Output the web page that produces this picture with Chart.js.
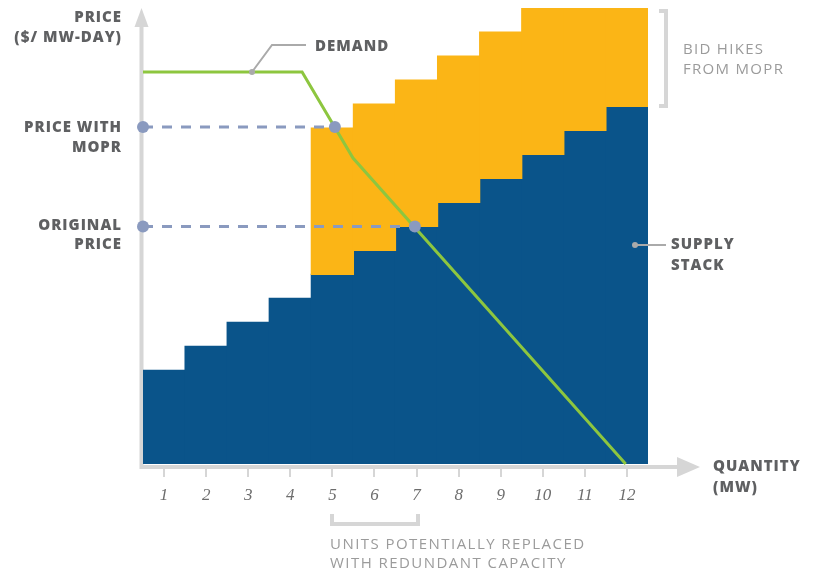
<!DOCTYPE html>
<html>
<head>
<meta charset="utf-8">
<script src="https://cdn.jsdelivr.net/npm/chart.js@4"></script>
<style>
    html, body { margin: 0; padding: 0; background: #ffffff; }
    canvas { display: block; }
</style>
</head>
<body>
<canvas id="mopr" width="819" height="575"></canvas>
<script>
// ==========================================
// Supply stack vs. demand under MOPR
// ==========================================

const quantities = ['1', '2', '3', '4', '5', '6', '7', '8', '9', '10', '11', '12'];
const supplyBid = [3.9, 4.9, 5.9, 6.9, 7.9, 8.9, 9.9, 10.9, 11.9, 12.9, 13.9, 14.9];
const moprBid = [null, null, null, null, 14, 15, 16, 17, 18, 19, 19, 19];

const demandQty = [0.5, 4.28, 5.49, 11.97];
const demandPrice = [16.33, 16.33, 12.75, 0];

const priceWithMopr = 14.04;
const priceWithMoprQty = 5.06;
const originalPrice = 9.9;
const originalPriceQty = 6.96;

const BLUE = '#0a548a';
const ORANGE = '#fbb516';
const GREEN = '#8dc63f';
const SLATE = '#8a9abf';
const AXIS = '#d6d6d6';
const LABEL = '#5f6062';
const NOTE = '#9b9b9b';
const LEADER = '#aaaaaa';

const boldFont = "800 15px 'Open Sans', sans-serif";
const lightFont = "400 15px 'Open Sans', sans-serif";

function text(ctx, str, x, y, font, color, align, spacing) {
    ctx.save();
    ctx.font = font;
    ctx.fillStyle = color;
    ctx.textAlign = align || 'left';
    ctx.textBaseline = 'middle';
    ctx.letterSpacing = spacing || '1px';
    ctx.fillText(str, x, y);
    ctx.restore();
}

// axes with arrows, drawn under the bars
const axisPlugin = {
    id: 'axisArrows',
    beforeDatasetsDraw(chart) {
        const { ctx, chartArea } = chart;
        const x0 = chartArea.left - 1.5;
        const y0 = chartArea.bottom + 3;
        ctx.save();
        ctx.strokeStyle = AXIS;
        ctx.fillStyle = AXIS;
        ctx.lineWidth = 4;
        ctx.beginPath();
        ctx.moveTo(x0, y0 + 2);
        ctx.lineTo(x0, 24);
        ctx.moveTo(x0, y0);
        ctx.lineTo(680, y0);
        ctx.stroke();
        ctx.beginPath();
        ctx.moveTo(x0, 8);
        ctx.lineTo(x0 - 7, 27);
        ctx.lineTo(x0 + 7, 27);
        ctx.closePath();
        ctx.fill();
        ctx.beginPath();
        ctx.moveTo(700, y0);
        ctx.lineTo(677, y0 - 10);
        ctx.lineTo(677, y0 + 10);
        ctx.closePath();
        ctx.fill();

        // tick marks
        const xs = chart.scales.x;
        ctx.lineWidth = 2;
        ctx.beginPath();
        quantities.forEach((q, i) => {
            const px = Math.round(xs.getPixelForValue(i));
            ctx.moveTo(px, y0 + 2);
            ctx.lineTo(px, y0 + 10);
        });
        ctx.stroke();
        ctx.restore();
    },
    afterDraw(chart) {
        const { ctx, chartArea } = chart;
        const xs = chart.scales.x;

        // tick labels
        quantities.forEach((q, i) => {
            text(ctx, q, xs.getPixelForValue(i), chartArea.bottom + 32,
                "italic 17px 'Liberation Serif', serif", '#6d6d6d', 'center', '0px');
        });

        // left labels
        text(ctx, 'PRICE', 122, 18, boldFont, LABEL, 'right');
        text(ctx, '($/ MW-DAY)', 122, 38, boldFont, LABEL, 'right');
        text(ctx, 'PRICE WITH', 122, 128, boldFont, LABEL, 'right');
        text(ctx, 'MOPR', 122, 148, boldFont, LABEL, 'right');
        text(ctx, 'ORIGINAL', 122, 226, boldFont, LABEL, 'right');
        text(ctx, 'PRICE', 122, 245, boldFont, LABEL, 'right');

        // demand leader
        ctx.save();
        ctx.strokeStyle = LEADER;
        ctx.fillStyle = LEADER;
        ctx.lineWidth = 2;
        ctx.beginPath();
        ctx.moveTo(252, 72);
        ctx.lineTo(272, 45);
        ctx.lineTo(306, 45);
        ctx.stroke();
        ctx.beginPath();
        ctx.arc(252, 72, 3, 0, Math.PI * 2);
        ctx.fill();

        // supply stack leader
        ctx.beginPath();
        ctx.moveTo(635, 245);
        ctx.lineTo(666, 245);
        ctx.stroke();
        ctx.beginPath();
        ctx.arc(635, 245, 3, 0, Math.PI * 2);
        ctx.fill();

        // brackets
        ctx.strokeStyle = AXIS;
        ctx.lineWidth = 4;
        ctx.beginPath();
        ctx.moveTo(659, 11);
        ctx.lineTo(666, 11);
        ctx.lineTo(666, 106);
        ctx.lineTo(659, 106);
        ctx.stroke();
        ctx.beginPath();
        ctx.moveTo(332, 514);
        ctx.lineTo(332, 524);
        ctx.lineTo(418, 524);
        ctx.lineTo(418, 514);
        ctx.stroke();
        ctx.restore();

        text(ctx, 'DEMAND', 315, 47, boldFont, LABEL);
        text(ctx, 'SUPPLY', 671, 245, boldFont, LABEL);
        text(ctx, 'STACK', 671, 266, boldFont, LABEL);
        text(ctx, 'QUANTITY', 713, 467, boldFont, LABEL);
        text(ctx, '(MW)', 713, 488, boldFont, LABEL);

        text(ctx, 'BID HIKES', 683, 50, lightFont, NOTE, 'left', '1.3px');
        text(ctx, 'FROM MOPR', 683, 70, lightFont, NOTE, 'left', '1.3px');
        text(ctx, 'UNITS POTENTIALLY REPLACED', 330, 545, lightFont, NOTE, 'left', '1.45px');
        text(ctx, 'WITH REDUNDANT CAPACITY', 330, 564, lightFont, NOTE, 'left', '1.45px');
    }
};

function priceLine(qty, price) {
    return {
        type: 'line',
        xAxisID: 'xq',
        data: [{ x: 0.5, y: price }, { x: qty, y: price }],
        borderColor: SLATE,
        backgroundColor: SLATE,
        borderWidth: 3,
        borderDash: [10, 9],
        pointRadius: 6,
        pointHoverRadius: 6,
        pointBorderWidth: 0,
        clip: false,
        order: 0
    };
}

const ctx = document.getElementById('mopr').getContext('2d');

new Chart(ctx, {
    data: {
        labels: quantities,
        datasets: [
            priceLine(priceWithMoprQty, priceWithMopr),
            priceLine(originalPriceQty, originalPrice),
            {
                type: 'line',
                xAxisID: 'xq',
                data: demandQty.map((q, i) => ({ x: q, y: demandPrice[i] })),
                borderColor: GREEN,
                borderWidth: 3,
                pointRadius: 0,
                tension: 0,
                clip: false,
                order: 1
            },
            {
                type: 'bar',
                data: supplyBid,
                backgroundColor: BLUE,
                barPercentage: 1,
                categoryPercentage: 1,
                borderWidth: 0,
                inflateAmount: 0.6,
                grouped: false,
                order: 3
            },
            {
                type: 'bar',
                data: moprBid.map((v, i) => v === null ? null : [supplyBid[i], v]),
                backgroundColor: ORANGE,
                barPercentage: 1,
                categoryPercentage: 1,
                borderWidth: 0,
                inflateAmount: 0.6,
                grouped: false,
                order: 2
            }
        ]
    },
    options: {
        responsive: false,
        animation: false,
        layout: { padding: { left: 143, right: 171, top: 8, bottom: 111 } },
        plugins: {
            legend: { display: false },
            tooltip: { enabled: false }
        },
        scales: {
            x: { type: 'category', display: false, offset: true },
            xq: { type: 'linear', display: false, min: 0.5, max: 12.5 },
            y: { type: 'linear', display: false, min: 0, max: 19 }
        }
    },
    plugins: [axisPlugin]
});
</script>
</body>
</html>
